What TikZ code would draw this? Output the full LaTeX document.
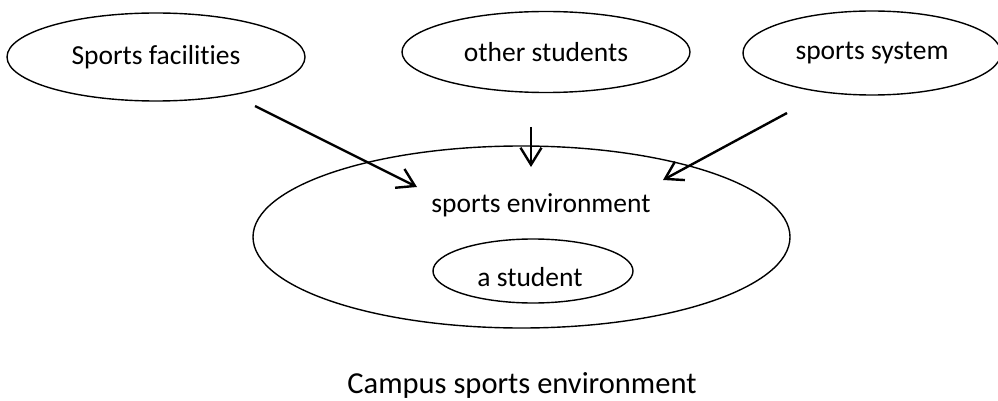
\documentclass[tikz,border=0pt]{standalone}
\usepackage{fontspec}
\setmainfont{Carlito}[Ligatures=NoCommon]
\usetikzlibrary{shapes.geometric,arrows.meta}
\begin{document}
\begin{tikzpicture}[x=1pt,y=-1pt]
\tikzset{
bubble/.style={ellipse,draw,line width=1.4pt,inner sep=0pt},
arrowline/.style={->,line width=2.4pt},
>={Straight Barb[length=17pt,width=21pt]},
font={\fontsize{27.5pt}{33pt}\selectfont}
}
\useasboundingbox (0,0) rectangle (998,401);

\node[bubble,minimum width=298pt,minimum height=88pt] (F) at (156,57) {Sports facilities};
\node[bubble,minimum width=288pt,minimum height=81pt] (O) at (546,52) {other students};
\node[bubble,minimum width=258pt,minimum height=84pt] (Y) at (872,53) {sports system};

\node[bubble,minimum width=537pt,minimum height=182pt] (E) at (521.5,237) {};
\node[anchor=base] (env) at (541,212) {sports environment};
\node[bubble,minimum width=200pt,minimum height=64pt] (S) at (533,271) {};
\node[anchor=base] (stu) at (530,286) {a student};

\node[anchor=base] (cap) at (522,393) {\fontsize{30.5pt}{36pt}\selectfont Campus sports environment};

\coordinate (F1) at (255,106);
\coordinate (F2) at (417,187);
\coordinate (O1) at (531,127);
\coordinate (O2) at (531,167);
\coordinate (Y1) at (787,113);
\coordinate (Y2) at (663,180);

\path[arrowline]
 (F1) edge (F2)
 (O1) edge (O2)
 (Y1) edge (Y2)
;
\end{tikzpicture}
\end{document}
